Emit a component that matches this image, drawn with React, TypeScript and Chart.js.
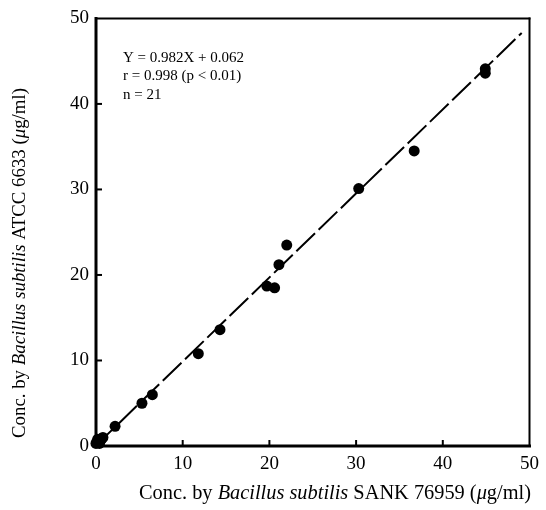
import React, { useEffect, useRef } from "react";
import { Chart, registerables } from "chart.js";

Chart.register(...registerables);

// Measured points (SANK 76959 on x, ATCC 6633 on y), µg/ml
const xValues = [0, 0.1, 0.3, 0.2, 0.5, 0.7, 0.8, 0.4, 2.2, 5.3, 6.5, 11.8, 14.3, 19.7, 20.6, 21.1, 22.0, 30.3, 36.7, 44.9, 44.9];
const yValues = [0.3, 0.5, 0.4, 0.8, 0.6, 0.9, 1.0, 0.3, 2.3, 5.0, 6.0, 10.8, 13.6, 18.7, 18.5, 21.2, 23.5, 30.1, 34.5, 44.1, 43.6];

// Regression line endpoints (Y = 0.982X + 0.062)
const fitX = [0, 49.1];
const fitY = [0.06, 48.3];

const tickValues = [0, 10, 20, 30, 40, 50];
const annotationLines = ["Y = 0.982X + 0.062", "r = 0.998 (p < 0.01)", "n = 21"];

type Seg = { t: string; i: boolean };
const xTitle: Seg[] = [
  { t: "Conc. by ", i: false },
  { t: "Bacillus subtilis", i: true },
  { t: " SANK 76959 (", i: false },
  { t: "μ", i: true },
  { t: "g/ml)", i: false },
];
const yTitle: Seg[] = [
  { t: "Conc. by ", i: false },
  { t: "Bacillus subtilis", i: true },
  { t: " ATCC 6633 (", i: false },
  { t: "μ", i: true },
  { t: "g/ml)", i: false },
];

const FONT = "'Liberation Serif', 'DejaVu Serif', serif";

function segFont(s: Seg, size: number) {
  return `${s.i ? "italic " : ""}${size}px ${FONT}`;
}
function measureSegs(ctx: CanvasRenderingContext2D, segs: Seg[], size: number) {
  let w = 0;
  for (const s of segs) {
    ctx.font = segFont(s, size);
    w += ctx.measureText(s.t).width;
  }
  return w;
}
function drawSegs(ctx: CanvasRenderingContext2D, segs: Seg[], size: number, cx: number, cy: number, rotate: boolean) {
  const W = measureSegs(ctx, segs, size);
  ctx.save();
  ctx.translate(cx, cy);
  if (rotate) ctx.rotate(-Math.PI / 2);
  ctx.textBaseline = "middle";
  ctx.textAlign = "left";
  let x = -W / 2;
  for (const s of segs) {
    ctx.font = segFont(s, size);
    ctx.fillText(s.t, x, 0);
    x += ctx.measureText(s.t).width;
  }
  ctx.restore();
}

const decor = {
  id: "decor",
  afterDraw(chart: any) {
    const { ctx, chartArea: a, scales } = chart;
    const xs = scales.x;
    const ys = scales.y;
    ctx.save();
    ctx.strokeStyle = "#000";
    ctx.fillStyle = "#000";
    const line = (x1: number, y1: number, x2: number, y2: number) => {
      ctx.beginPath();
      ctx.moveTo(x1, y1);
      ctx.lineTo(x2, y2);
      ctx.stroke();
    };
    ctx.lineCap = "square";
    ctx.lineWidth = 2;
    line(a.left, a.top, a.right, a.top);
    line(a.right, a.top, a.right, a.bottom);
    ctx.lineWidth = 3;
    line(a.left, a.top, a.left, a.bottom);
    line(a.left, a.bottom, a.right, a.bottom);
    ctx.lineWidth = 2;
    ctx.lineCap = "butt";
    for (const v of tickValues) {
      if (v === 0 || v === 50) continue;
      const px = xs.getPixelForValue(v);
      line(px, a.bottom, px, a.bottom - 6);
      const py = ys.getPixelForValue(v);
      line(a.left, py, a.left + 6, py);
    }
    // annotation
    ctx.font = `15px ${FONT}`;
    ctx.textBaseline = "middle";
    ctx.textAlign = "left";
    annotationLines.forEach((t, i) => ctx.fillText(t, 123, 58 + i * 18.5));
    // titles
    const base = 17;
    const mx = measureSegs(ctx, xTitle, base);
    const my = measureSegs(ctx, yTitle, base);
    drawSegs(ctx, xTitle, (base * 392) / mx, 335, 494, false);
    drawSegs(ctx, yTitle, (base * 350) / my, 20, 263, true);
    ctx.restore();
  },
};

export default function App() {
  const ref = useRef<HTMLCanvasElement>(null);
  useEffect(() => {
    if (!ref.current) return;
    const tickFont = { family: FONT, size: 19 };
    const chart = new Chart(ref.current, {
      type: "scatter",
      data: {
        datasets: [
          {
            type: "line",
            data: fitX.map((x, i) => ({ x, y: fitY[i] })),
            borderColor: "#000",
            borderWidth: 2,
            borderDash: [26, 5],
            pointRadius: 0,
            fill: false,
          } as any,
          {
            data: xValues.map((x, i) => ({ x, y: yValues[i] })),
            backgroundColor: "#000",
            borderColor: "#000",
            pointRadius: 5.5,
            borderWidth: 0,
            clip: false,
          } as any,
        ],
      },
      options: {
        responsive: false,
        animation: false,
        layout: { padding: { left: 0, top: 16, right: 15, bottom: 0 } },
        plugins: { legend: { display: false }, tooltip: { enabled: false } },
        scales: {
          x: {
            type: "linear",
            min: 0,
            max: 50,
            afterFit: (s: any) => {
              s.height = 64;
            },
            afterBuildTicks: (s: any) => {
              s.ticks = tickValues.map((v) => ({ value: v }));
            },
            grid: { display: false, drawTicks: false },
            border: { display: false },
            ticks: { color: "#000", padding: 7, font: tickFont },
          },
          y: {
            type: "linear",
            min: 0,
            max: 50,
            afterFit: (s: any) => {
              s.width = 96;
            },
            afterBuildTicks: (s: any) => {
              s.ticks = tickValues.map((v) => ({ value: v }));
            },
            grid: { display: false, drawTicks: false },
            border: { display: false },
            ticks: { color: "#000", padding: 7, font: tickFont },
          },
        },
      },
      plugins: [decor],
    });
    return () => chart.destroy();
  }, []);
  return (
    <div style={{ position: "fixed", left: 0, top: 0, width: 546, height: 510, background: "#fff" }}>
      <canvas ref={ref} width={546} height={510} />
    </div>
  );
}
